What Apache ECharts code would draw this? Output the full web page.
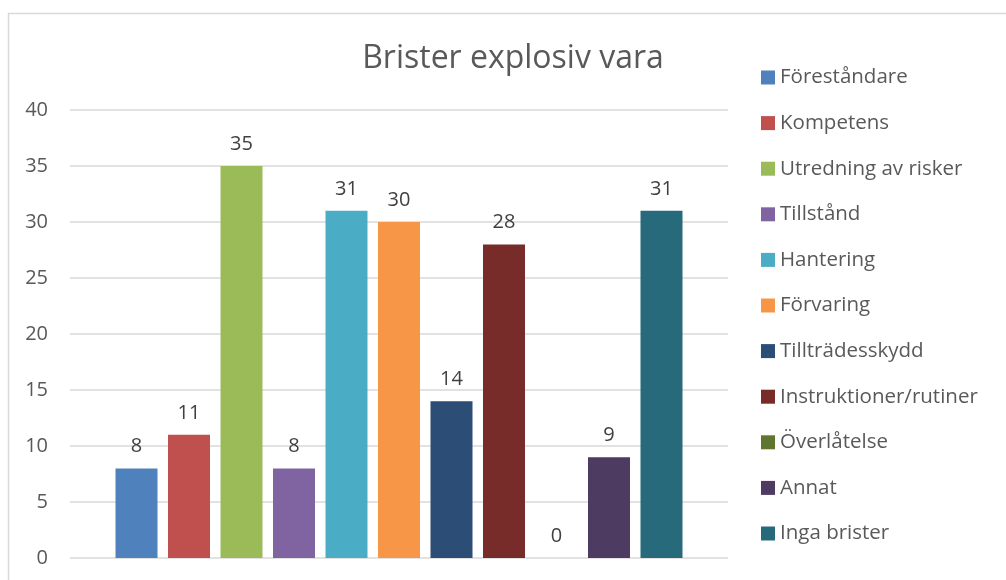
<!DOCTYPE html>
<html>
<head>
<meta charset="utf-8">
<title>Brister explosiv vara</title>
<script src="https://cdn.jsdelivr.net/npm/echarts@6/dist/echarts.min.js"></script>
<style>
  html, body { margin: 0; padding: 0; background: #fff; }
  #chart { width: 1006px; height: 580px; }
</style>
</head>
<body>
<div id="chart"></div>
<script>
/* DATOS DEL GRAFICO */
var titulo = "Brister explosiv vara";
var nombres = ["Föreståndare", "Kompetens", "Utredning av risker", "Tillstånd", "Hantering",
  "Förvaring", "Tillträdesskydd", "Instruktioner/rutiner", "Överlåtelse", "Annat", "Inga brister"];
var valores = [8, 11, 35, 8, 31, 30, 14, 28, 0, 9, 31];
var colores = ["#4F81BD", "#C0504D", "#9BBB59", "#8064A2", "#4BACC6", "#F79646",
  "#2C4D75", "#772C2A", "#5F7530", "#4D3B62", "#276A7C"];
var categorias = [""];

var fuente = "'Open Sans', 'Noto Sans', sans-serif";

/* UNA SERIE POR CADA BRISTA */
var series = nombres.map(function (n, i) {
  return {
    name: n,
    type: "bar",
    data: [valores[i]],
    barWidth: 42,
    barGap: "25%",
    itemStyle: { color: colores[i] },
    label: {
      show: true,
      position: "top",
      distance: 12,
      color: "#404040",
      fontFamily: fuente,
      fontSize: 20
    }
  };
});

var myChart = echarts.init(document.getElementById("chart"));
myChart.setOption({
  animation: false,
  color: colores,
  title: {
    text: titulo,
    left: 508,
    top: 38,
    textAlign: "center",
    textStyle: { color: "#595959", fontFamily: fuente, fontSize: 32, fontWeight: "normal" }
  },
  legend: {
    orient: "vertical",
    left: 756,
    top: 62,
    itemWidth: 14,
    itemHeight: 14,
    itemGap: 24.6,
    icon: "rect",
    data: nombres,
    textStyle: { color: "#595959", fontFamily: fuente, fontSize: 20.5, lineHeight: 20 }
  },
  grid: { left: 70, right: 278, top: 110, bottom: 22 },
  xAxis: {
    type: "category",
    data: categorias,
    axisLine: { show: false },
    axisTick: { show: false },
    axisLabel: { show: false }
  },
  yAxis: {
    type: "value",
    min: 0,
    max: 40,
    interval: 5,
    axisLine: { show: false },
    axisTick: { show: false },
    axisLabel: { color: "#595959", fontFamily: fuente, fontSize: 20, margin: 22 },
    splitLine: { lineStyle: { color: "#d9d9d9", width: 1.5 } }
  },
  graphic: [{
    type: "rect",
    left: 6,
    top: 11,
    shape: { width: 1100, height: 700 },
    style: { fill: "none", stroke: "#d9d9d9", lineWidth: 1.5 },
    silent: true
  }],
  series: series
});
</script>
</body>
</html>
